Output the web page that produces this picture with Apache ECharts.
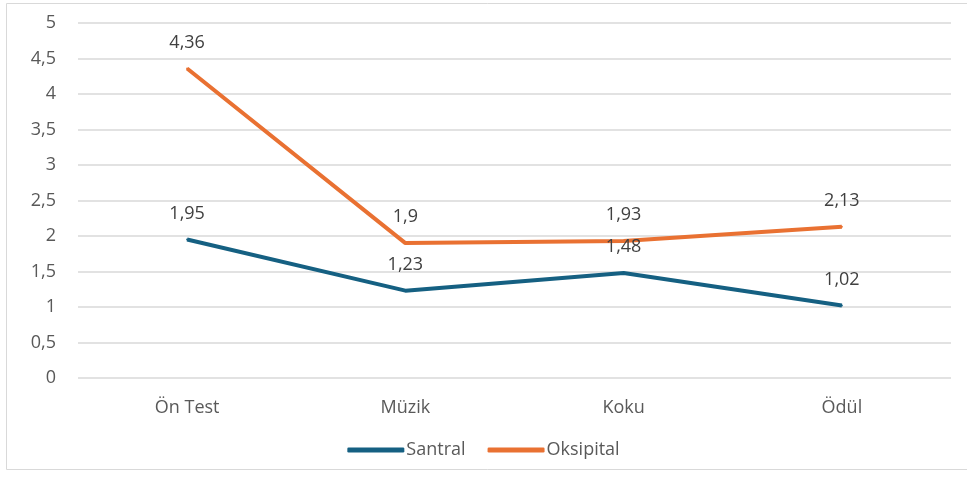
<!DOCTYPE html>
<html>
<head>
<meta charset="utf-8">
<script src="https://cdn.jsdelivr.net/npm/echarts@6/dist/echarts.min.js"></script>
<style>
html,body{margin:0;padding:0;background:#fff;}
#chart{width:967px;height:481px;}
</style>
</head>
<body>
<div id="chart"></div>
<script>
const categories = ['Ön Test', 'Müzik', 'Koku', 'Ödül'];
const santral = [1.95, 1.23, 1.48, 1.02];
const oksipital = [4.36, 1.9, 1.93, 2.13];
const seriesNames = ['Santral', 'Oksipital'];

const fmt = v => String(v).replace('.', ',');
const FONT = '"Open Sans", "Noto Sans", sans-serif';

const labelStyle = {
  show: true, position: 'top', distance: 16,
  color: '#404040', fontSize: 18, fontFamily: FONT,
  formatter: p => fmt(p.value)
};

const chart = echarts.init(document.getElementById('chart'));
chart.setOption({
  animation: false,
  textStyle: { fontFamily: FONT },
  graphic: [{
    type: 'rect',
    shape: { x: 6.5, y: 3.5, width: 980, height: 466 },
    style: { fill: 'none', stroke: '#d9d9d9', lineWidth: 1 },
    silent: true
  }],
  grid: { left: 78, right: 16, top: 23, bottom: 103, containLabel: false },
  legend: {
    bottom: 17,
    left: 'center',
    itemWidth: 57,
    itemHeight: 5,
    itemGap: 22,
    icon: 'roundRect',
    textStyle: { color: '#595959', fontSize: 18, fontFamily: FONT, padding: [0, 0, 0, -3] },
    data: seriesNames
  },
  xAxis: {
    type: 'category',
    data: categories,
    boundaryGap: true,
    axisLine: { show: false },
    axisTick: { show: false },
    axisLabel: { color: '#595959', fontSize: 18, margin: 21 }
  },
  yAxis: {
    type: 'value',
    min: 0, max: 5, interval: 0.5,
    axisLine: { show: false },
    axisTick: { show: false },
    splitLine: { lineStyle: { color: '#d9d9d9', width: 1.5 } },
    axisLabel: { color: '#595959', fontSize: 18, margin: 22, formatter: fmt }
  },
  series: [
    {
      name: seriesNames[0], type: 'line', data: santral,
      symbol: 'circle', symbolSize: 2, showSymbol: true,
      lineStyle: { color: '#156082', width: 4 },
      itemStyle: { color: '#156082' },
      label: labelStyle
    },
    {
      name: seriesNames[1], type: 'line', data: oksipital,
      symbol: 'circle', symbolSize: 2, showSymbol: true,
      lineStyle: { color: '#E97132', width: 4 },
      itemStyle: { color: '#E97132' },
      label: labelStyle
    }
  ]
});
</script>
</body>
</html>
